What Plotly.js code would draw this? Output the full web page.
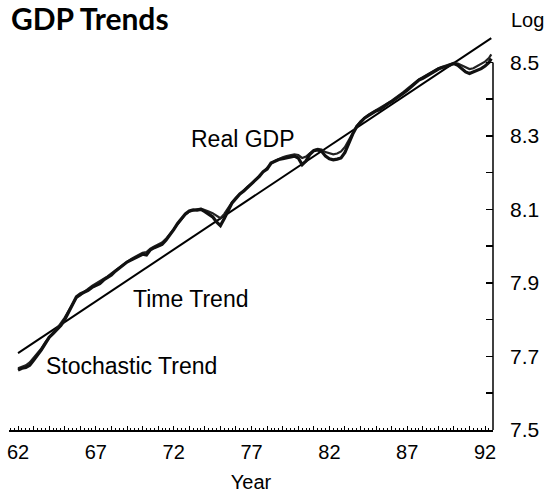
<!DOCTYPE html>
<html>
<head>
<meta charset="utf-8">
<script src="https://cdn.plot.ly/plotly-3.0.1.min.js"></script>
<style>html,body{margin:0;padding:0;background:#fff;}#chart{width:553px;height:493px;}</style>
</head>
<body>
<div id="chart"></div>
<script>
// ---- data ----
const years = [62.0,62.25,62.5,62.75,63.0,63.25,63.5,63.75,64.0,64.25,64.5,64.75,65.0,65.25,65.5,65.75,
66.0,66.25,66.5,66.75,67.0,67.25,67.5,67.75,68.0,68.25,68.5,68.75,69.0,69.25,69.5,69.75,
70.0,70.25,70.5,70.75,71.0,71.25,71.5,71.75,72.0,72.25,72.5,72.75,73.0,73.25,73.5,73.75,
74.0,74.25,74.5,74.75,75.0,75.25,75.5,75.75,76.0,76.25,76.5,76.75,77.0,77.25,77.5,77.75,
78.0,78.25,78.5,78.75,79.0,79.25,79.5,79.75,80.0,80.25,80.5,80.75,81.0,81.25,81.5,81.75,
82.0,82.25,82.5,82.75,83.0,83.25,83.5,83.75,84.0,84.25,84.5,84.75,85.0,85.25,85.5,85.75,
86.0,86.25,86.5,86.75,87.0,87.25,87.5,87.75,88.0,88.25,88.5,88.75,89.0,89.25,89.5,89.75,
90.0,90.25,90.5,90.75,91.0,91.25,91.5,91.75,92.0,92.25,92.4];

const realGDP = [7.663,7.668,7.670,7.676,7.690,7.703,7.718,7.735,7.752,7.762,7.772,7.784,7.800,7.820,7.842,7.862,
7.870,7.874,7.880,7.888,7.893,7.898,7.908,7.915,7.922,7.932,7.941,7.948,7.957,7.962,7.968,7.972,
7.978,7.976,7.990,7.996,8.000,8.005,8.016,8.030,8.045,8.062,8.076,8.088,8.096,8.099,8.098,8.100,
8.094,8.087,8.080,8.066,8.056,8.075,8.098,8.118,8.130,8.142,8.150,8.160,8.168,8.180,8.190,8.203,
8.210,8.226,8.232,8.236,8.238,8.240,8.244,8.245,8.240,8.222,8.232,8.250,8.260,8.262,8.258,8.245,
8.238,8.235,8.237,8.240,8.255,8.282,8.305,8.325,8.338,8.348,8.355,8.362,8.368,8.372,8.380,8.387,
8.393,8.400,8.408,8.416,8.424,8.434,8.442,8.452,8.457,8.463,8.470,8.477,8.482,8.486,8.488,8.493,
8.497,8.492,8.484,8.474,8.470,8.474,8.480,8.483,8.490,8.500,8.510];

const stochasticTrend = [7.668,7.672,7.676,7.684,7.696,7.708,7.722,7.738,7.752,7.765,7.776,7.790,7.806,7.824,7.844,7.860,
7.866,7.876,7.884,7.892,7.898,7.904,7.912,7.918,7.926,7.934,7.943,7.951,7.959,7.965,7.971,7.976,
7.982,7.984,7.993,7.999,8.004,8.010,8.020,8.033,8.047,8.062,8.074,8.086,8.094,8.098,8.100,8.102,
8.099,8.094,8.090,8.082,8.076,8.088,8.104,8.120,8.132,8.143,8.152,8.162,8.170,8.181,8.192,8.203,
8.212,8.224,8.232,8.238,8.242,8.245,8.248,8.250,8.248,8.240,8.244,8.254,8.262,8.265,8.263,8.256,
8.252,8.250,8.252,8.258,8.270,8.290,8.310,8.327,8.340,8.349,8.357,8.364,8.370,8.375,8.382,8.389,
8.396,8.403,8.411,8.419,8.428,8.437,8.446,8.454,8.460,8.466,8.473,8.479,8.484,8.488,8.491,8.495,
8.499,8.497,8.492,8.485,8.482,8.484,8.490,8.495,8.502,8.512,8.522];

const timeTrendYears = [62.0, 92.4];
const timeTrendValues = [7.709, 8.566];

const xTickYears = [62,63,64,65,66,67,68,69,70,71,72,73,74,75,76,77,78,79,80,81,82,83,84,85,86,87,88,89,90,91,92];
const xTickLabels = xTickYears.map(y => ((y - 62) % 5 === 0) ? String(y) : '');
const yTickValues = [7.5,7.6,7.7,7.8,7.9,8.0,8.1,8.2,8.3,8.4,8.5];
const yTickLabels = ['7.5','','7.7','','7.9','','8.1','','8.3','','8.5'];

// ---- chart ----
const SANS = '"Liberation Sans", Arial, Helvetica, sans-serif';

const traces = [
  {x: timeTrendYears, y: timeTrendValues, mode: 'lines', name: 'Time Trend',
   line: {color: '#000', width: 2}},
  {x: years, y: stochasticTrend, mode: 'lines', name: 'Stochastic Trend',
   line: {color: '#222', width: 2.2}},
  {x: years, y: realGDP, mode: 'lines', name: 'Real GDP',
   line: {color: '#111', width: 3.2}}
];

const layout = {
  width: 553, height: 493,
  margin: {l: 9, r: 60, t: 33, b: 63, pad: 0},
  paper_bgcolor: '#fff', plot_bgcolor: '#fff',
  showlegend: false,
  font: {family: SANS, color: '#000', size: 20},
  title: {text: '<b>GDP Trends</b>', x: 11/553, xanchor: 'left', xref: 'container',
          y: 1 - 19/493, yanchor: 'middle', yref: 'container',
          font: {family: 'Lato, "Open Sans", sans-serif', size: 30, color: '#000'}},
  xaxis: {
    range: [61.42, 92.51], showgrid: false, zeroline: false,
    showline: true, linecolor: '#000', linewidth: 1.5,
    tickmode: 'array', tickvals: xTickYears, ticktext: xTickLabels,
    ticks: 'inside', ticklen: 4, tickwidth: 1, tickcolor: '#000',
    minor: {dtick: 0.25, tick0: 62, ticks: 'inside', ticklen: 2, tickwidth: 1, tickcolor: '#000', showgrid: false},
    tickfont: {family: SANS, size: 20, color: '#000'},
    ticklabelstandoff: 3,
    title: {text: 'Year', standoff: 14, font: {family: SANS, size: 20, color: '#000'}},
    fixedrange: true
  },
  yaxis: {
    side: 'right', range: [7.5, 8.58], showgrid: false, zeroline: false,
    showline: false,
    tickmode: 'array', tickvals: yTickValues, ticktext: yTickLabels,
    ticks: 'inside', ticklen: 7, tickwidth: 1.5, tickcolor: '#000',
    tickfont: {family: SANS, size: 21, color: '#000'},
    ticklabelstandoff: 16,
    fixedrange: true
  },
  shapes: [
    {type: 'line', xref: 'paper', yref: 'y', x0: 1, x1: 1, y0: 7.5, y1: 8.5,
     line: {color: '#000', width: 1.5}}
  ],
  annotations: [
    {text: 'Log', xref: 'paper', yref: 'paper', x: (527-9)/484, y: (430-20)/397,
     xanchor: 'center', yanchor: 'middle', showarrow: false,
     font: {family: SANS, size: 20, color: '#000'}},
    {text: 'Real GDP', xref: 'x', yref: 'y', x: 76.45, y: 8.292,
     xanchor: 'center', yanchor: 'middle', showarrow: false,
     font: {family: SANS, size: 23, color: '#000'}},
    {text: 'Time Trend', xref: 'x', yref: 'y', x: 73.11, y: 7.856,
     xanchor: 'center', yanchor: 'middle', showarrow: false,
     font: {family: SANS, size: 23, color: '#000'}},
    {text: 'Stochastic Trend', xref: 'x', yref: 'y', x: 69.32, y: 7.674,
     xanchor: 'center', yanchor: 'middle', showarrow: false,
     font: {family: SANS, size: 23, color: '#000'}}
  ]
};

Plotly.newPlot('chart', traces, layout, {displayModeBar: false, staticPlot: true});
</script>
</body>
</html>
